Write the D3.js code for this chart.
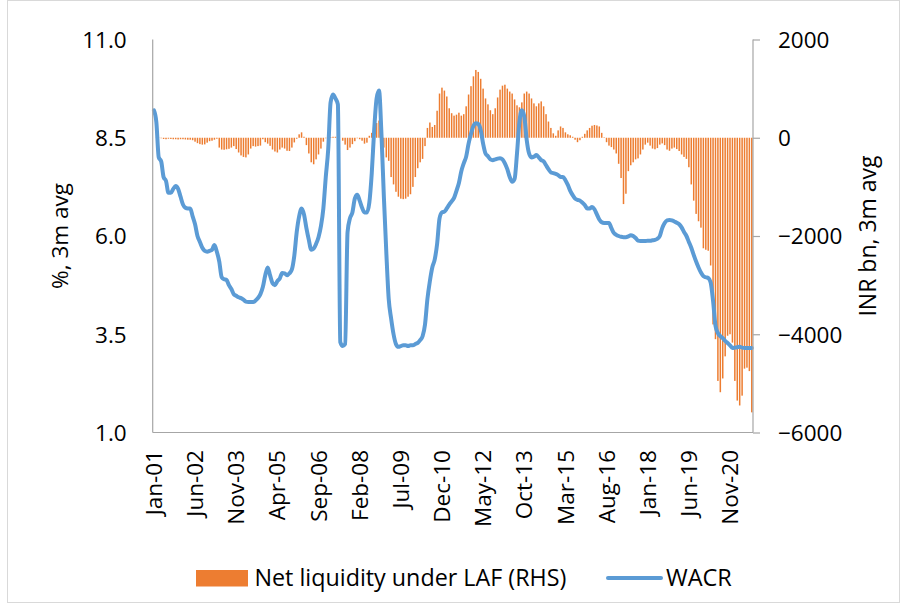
<!DOCTYPE html>
<html>
<head>
<meta charset="utf-8">
<script src="https://cdn.jsdelivr.net/npm/d3@7"></script>
<style>
  html, body { margin: 0; padding: 0; background: #fff; }
  svg { display: block; font-family: "Open Sans", "Liberation Sans", sans-serif; }
</style>
</head>
<body>
<svg id="chart" width="904" height="607"></svg>
<script>
// ---------------- DATA ----------------
const startMonth = new Date(2001, 0, 1);   // Jan-01
const monthCount = 248;                    // Jan-01 .. Aug-21
const xTickLabels = ["Jan-01","Jun-02","Nov-03","Apr-05","Sep-06","Feb-08","Jul-09","Dec-10",
                     "May-12","Oct-13","Mar-15","Aug-16","Jan-18","Jun-19","Nov-20"];
const leftTicks = [1.0, 3.5, 6.0, 8.5, 11.0];
const rightTicks = [-6000, -4000, -2000, 0, 2000];

// WACR, %, 3m avg (monthly, Jan-01 onwards)
const wacr = [
 9.2,8.9,8.0,7.9,7.5,7.4,7.1,7.1,7.2,7.27,
 7.2,7.0,6.8,6.72,6.7,6.7,6.5,6.3,6.0,5.85,
 5.7,5.62,5.6,5.62,5.65,5.77,5.6,5.35,4.95,4.9,
 4.88,4.75,4.65,4.52,4.48,4.44,4.42,4.38,4.33,4.32,
 4.32,4.32,4.36,4.42,4.52,4.7,5.0,5.2,5.0,4.8,
 4.75,4.85,4.92,5.06,5.05,5.0,5.05,5.15,5.5,6.1,
 6.5,6.7,6.55,6.2,5.9,5.65,5.68,5.8,5.97,6.25,
 6.7,7.5,8.2,9.4,9.6,9.5,9.35,3.3,3.2,3.25,
 6.1,6.45,6.6,6.95,7.05,6.9,6.72,6.6,6.6,6.85,
 7.6,8.7,9.5,9.7,8.6,7.0,5.6,4.4,3.9,3.5,
 3.25,3.18,3.2,3.22,3.22,3.2,3.22,3.22,3.25,3.28,
 3.35,3.45,3.75,4.4,4.85,5.2,5.4,5.8,6.45,6.6,
 6.62,6.7,6.8,6.88,6.97,7.15,7.35,7.65,7.85,8.02,
 8.35,8.6,8.8,8.87,8.85,8.7,8.35,8.1,8.03,7.95,
 7.93,7.95,7.97,7.98,7.95,7.85,7.7,7.5,7.38,7.45,
 8.1,8.9,9.2,9.05,8.45,8.1,8.0,8.02,8.06,8.0,
 7.93,7.9,7.8,7.7,7.62,7.6,7.58,7.55,7.5,7.5,
 7.42,7.3,7.15,7.04,6.95,6.92,6.9,6.85,6.79,6.7,
 6.7,6.74,6.68,6.55,6.42,6.35,6.33,6.33,6.33,6.2,
 6.08,6.03,6.0,5.98,5.97,5.97,5.99,6.02,6.0,5.95,
 5.88,5.87,5.87,5.87,5.88,5.88,5.89,5.9,5.93,6.0,
 6.2,6.33,6.4,6.41,6.4,6.37,6.34,6.3,6.22,6.1,
 6.0,5.85,5.7,5.52,5.35,5.2,5.07,4.98,4.95,4.93,
 4.82,4.35,3.72,3.53,3.45,3.4,3.33,3.28,3.22,3.15,
 3.16,3.17,3.18,3.16,3.15,3.15,3.15,3.15
];

// Net liquidity under LAF, INR bn, 3m avg (RHS)
const netLiquidity = [
 0,5,-5,-10,-25,-30,-20,-25,-30,-30,
 -35,-30,-30,-35,-40,-40,-50,-80,-110,-130,
 -140,-135,-100,-70,-60,-40,-20,-200,-240,-245,
 -235,-225,-200,-170,-230,-300,-360,-390,-400,-340,
 -220,-170,-180,-170,-160,-30,-90,-120,-165,-240,
 -280,-300,-240,-200,-220,-265,-270,-200,-95,-20,
 70,110,20,-150,-320,-500,-540,-440,-340,-220,
 -80,-10,10,15,20,20,10,0,-60,-140,
 -250,-200,-130,-70,-10,-30,-60,-120,-100,40,
 100,150,300,350,0,-200,-400,-470,-800,-950,
 -1100,-1200,-1240,-1250,-1240,-1200,-1150,-1000,-800,-620,
 -500,-430,-170,200,310,220,260,550,900,1020,
 960,840,600,500,450,470,510,450,480,640,
 880,1050,1250,1380,1340,1200,1000,800,680,560,
 480,600,820,980,1060,1080,1000,940,900,780,
 660,620,720,900,940,900,800,700,640,700,
 740,640,480,330,200,90,40,150,230,200,
 110,70,50,20,-40,-90,-50,20,80,150,
 200,245,260,250,230,100,10,-90,-160,-190,
 -240,-320,-530,-820,-1350,-1140,-680,-560,-500,-440,
 -420,-340,-240,-140,-100,-160,-220,-235,-210,-140,
 -115,-150,-240,-265,-220,-200,-230,-270,-340,-390,
 -430,-600,-950,-1280,-1550,-1700,-1830,-2250,-2280,-2300,
 -2600,-3800,-4100,-4950,-5180,-4900,-4450,-4030,-4000,-4170,
 -4950,-5350,-5450,-5250,-4700,-4680,-4750,-5590
];

const seriesNames = ["Net liquidity under LAF (RHS)", "WACR"];
const colors = { bar: "#ED7D31", line: "#5B9BD5" };

// ---------------- CHART ----------------
const fmt = d3.timeFormat("%b-%y");
const months = d3.range(monthCount).map(i => fmt(d3.timeMonth.offset(startMonth, i)));

const svg = d3.select("#chart");
const plot = { left: 152.7, right: 753, top: 39.5, bottom: 432.5 };

// outer frame
svg.append("rect").attr("x", 7.5).attr("y", 0.5).attr("width", 892).attr("height", 602)
  .attr("fill", "none").attr("stroke", "#d9d9d9").attr("stroke-width", 1);

const x = d3.scaleBand().domain(months).range([plot.left, plot.right]).paddingInner(0.38).paddingOuter(0.19);
const yL = d3.scaleLinear().domain([1, 11]).range([plot.bottom, plot.top]);
const yR = d3.scaleLinear().domain([-6000, 2000]).range([plot.bottom, plot.top]);
const cx = m => x(m) + x.bandwidth() / 2;

// bars
svg.append("g").selectAll("rect").data(netLiquidity).join("rect")
  .attr("x", (d, i) => x(months[i]))
  .attr("width", x.bandwidth())
  .attr("y", d => Math.min(yR(d), yR(0)))
  .attr("height", d => Math.abs(yR(d) - yR(0)))
  .attr("fill", colors.bar);

// line
const line = d3.line().x((d, i) => cx(months[i])).y(d => yL(d)).curve(d3.curveMonotoneX);
svg.append("path").datum(wacr).attr("d", line)
  .attr("fill", "none").attr("stroke", colors.line).attr("stroke-width", 4)
  .attr("stroke-linejoin", "round").attr("stroke-linecap", "round");

// axes
const axisColor = "#a6a6a6";
const gL = svg.append("g").attr("transform", `translate(${plot.left},0)`)
  .call(d3.axisLeft(yL).tickValues(leftTicks).tickFormat(d3.format(".1f")).tickSize(0).tickPadding(26));
const gR = svg.append("g").attr("transform", `translate(${plot.right},0)`)
  .call(d3.axisRight(yR).tickValues(rightTicks).tickFormat(d3.format("d")).tickSize(7).tickPadding(18));
const gX = svg.append("g").attr("transform", `translate(0,${plot.bottom})`)
  .call(d3.axisBottom(x).tickValues(xTickLabels).tickSize(0).tickSizeOuter(0));

[gL, gR, gX].forEach(g => {
  g.selectAll("path.domain").attr("stroke", axisColor).attr("stroke-width", 1.2);
  g.selectAll(".tick line").attr("stroke", axisColor).attr("stroke-width", 1.2);
  g.selectAll("text").attr("fill", "#000").style("font-size", "22.5px")
    .style("font-family", '"Open Sans", sans-serif');
});
gL.select("path.domain").attr("d", `M0,${plot.top}V${plot.bottom}`);
gR.select("path.domain").attr("d", `M0,${plot.top}V${plot.bottom}`);
gX.select("path.domain").attr("d", `M${plot.left},0H${plot.right}`);
gL.selectAll("text").attr("dy", "0.35em");
gR.selectAll("text").attr("dy", "0.35em");

gX.selectAll(".tick text")
  .attr("transform", "rotate(-90)")
  .attr("text-anchor", "end")
  .attr("x", -17.5)
  .attr("y", 0)
  .attr("dy", "0.36em");

// axis titles
svg.append("text").attr("transform", `translate(60,236) rotate(-90)`)
  .attr("text-anchor", "middle").attr("dy", "0.35em")
  .style("font-size", "22.5px").text("%, 3m avg");
svg.append("text").attr("transform", `translate(868,236) rotate(-90)`)
  .attr("text-anchor", "middle").attr("dy", "0.35em")
  .style("font-size", "23px").text("INR bn, 3m avg");

// legend
const lg = svg.append("g");
lg.append("rect").attr("x", 196).attr("y", 570).attr("width", 52).attr("height", 16.5).attr("fill", colors.bar);
lg.append("text").attr("x", 254.5).attr("y", 578).attr("dy", "0.35em").style("font-size", "23.3px").text(seriesNames[0]);
lg.append("line").attr("x1", 608).attr("x2", 661).attr("y1", 578).attr("y2", 578)
  .attr("stroke", colors.line).attr("stroke-width", 4).attr("stroke-linecap", "round");
lg.append("text").attr("x", 666).attr("y", 578).attr("dy", "0.35em").style("font-size", "23.5px").text(seriesNames[1]);
</script>
</body>
</html>
